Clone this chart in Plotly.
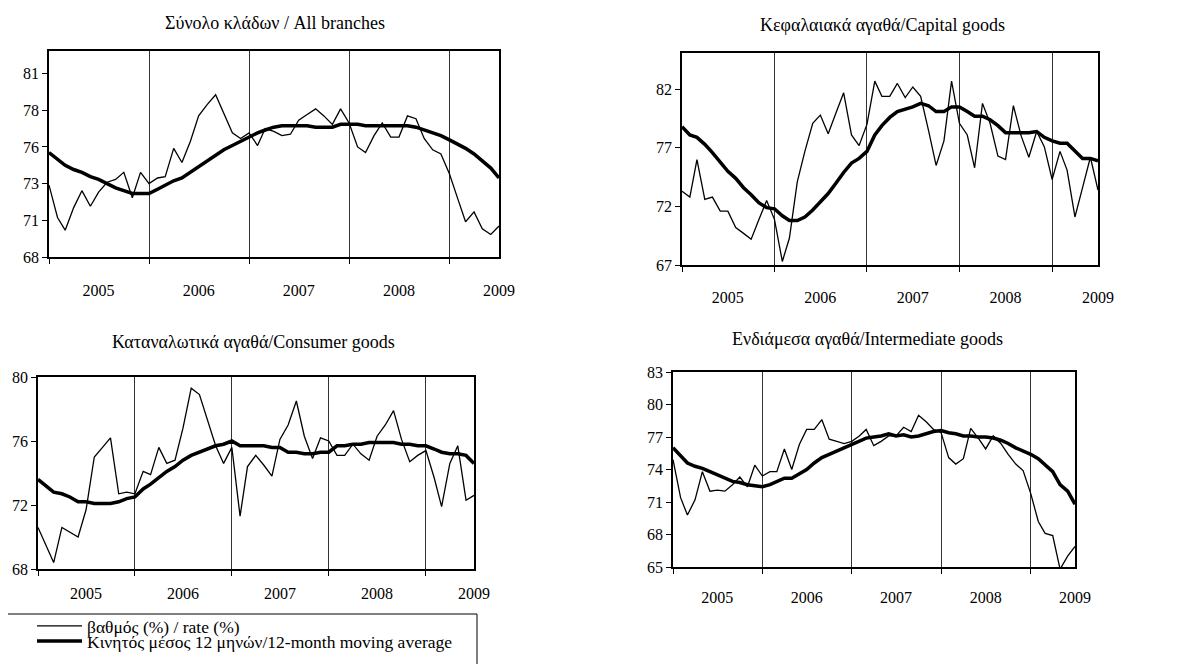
import pandas as pd
import plotly.graph_objects as go

W, H = 1187, 664
OX, OY = 8, 8  # page margin offset of the rendered figure

months = pd.date_range("2005-01-01", "2009-07-01", freq="MS")
year_labels = ["2005", "2006", "2007", "2008", "2009"]
year_label_pos = ["2005-07-01", "2006-07-01", "2007-07-01", "2008-07-01", "2009-07-01"]
year_bounds = ["2005-01-01", "2006-01-01", "2007-01-01", "2008-01-01", "2009-01-01"]

titles = ["Σύνολο κλάδων / All branches", "Κεφαλαιακά αγαθά/Capital goods",
          "Καταναλωτικά αγαθά/Consumer goods", "Ενδιάμεσα αγαθά/Intermediate goods"]
legend_names = ["βαθμός (%) / rate (%)", "Κινητός μέσος 12 μηνών/12-month moving average"]

# All branches
all_rate = [73.1, 70.8, 69.9, 71.5, 72.7, 71.6, 72.6, 73.3, 73.5, 74.0, 72.2, 74.0,
            73.2, 73.6, 73.7, 75.7, 74.7, 76.2, 78.0, 78.8, 79.5, 78.2, 76.8, 76.4,
            76.8, 75.9, 77.1, 76.9, 76.6, 76.7, 77.7, 78.1, 78.5, 78.0, 77.4, 78.5,
            77.5, 75.8, 75.4, 76.6, 77.5, 76.5, 76.5, 78.0, 77.8, 76.4, 75.6, 75.3,
            73.9, 72.1, 70.5, 71.2, 70.0, 69.6, 70.2]
all_ma = [75.4, 74.9, 74.5, 74.2, 74.0, 73.7, 73.5, 73.2, 72.9, 72.7, 72.5, 72.5,
          72.5, 72.8, 73.1, 73.4, 73.6, 74.0, 74.4, 74.8, 75.2, 75.6, 75.9, 76.2,
          76.5, 76.8, 77.0, 77.2, 77.3, 77.3, 77.3, 77.3, 77.2, 77.2, 77.2, 77.4,
          77.4, 77.4, 77.3, 77.3, 77.3, 77.3, 77.3, 77.3, 77.2, 77.0, 76.8, 76.6,
          76.3, 76.0, 75.7, 75.3, 74.8, 74.3, 73.6]
all_ticks = [68, 70.6, 73.2, 75.8, 78.4, 81]
all_ticktext = ["68", "71", "73", "76", "78", "81"]

# Capital goods
cap_rate = [73.3, 72.8, 76.0, 72.6, 72.8, 71.6, 71.6, 70.2, 69.7, 69.2, 70.9, 72.5,
            70.9, 67.3, 69.3, 74.1, 76.7, 79.1, 79.8, 78.2, 80.0, 81.7, 78.1, 77.2,
            79.0, 82.7, 81.4, 81.4, 82.5, 81.3, 82.2, 81.4, 78.5, 75.5, 77.6, 82.7,
            79.1, 78.1, 75.3, 80.8, 79.1, 76.3, 76.0, 80.6, 78.0, 76.2, 78.4, 77.1,
            74.3, 76.7, 75.1, 71.1, 73.6, 76.2, 73.4]
cap_ma = [78.8, 78.1, 77.9, 77.3, 76.6, 75.8, 75.0, 74.4, 73.6, 73.0, 72.3, 71.9,
          71.8, 71.2, 70.8, 70.8, 71.1, 71.7, 72.4, 73.1, 74.0, 74.9, 75.7, 76.1,
          76.7, 78.1, 78.9, 79.6, 80.1, 80.3, 80.5, 80.8, 80.6, 80.1, 80.1, 80.5,
          80.5, 80.1, 79.7, 79.7, 79.4, 78.9, 78.3, 78.3, 78.3, 78.3, 78.4, 77.9,
          77.6, 77.4, 77.4, 76.7, 76.1, 76.1, 75.9]
cap_ticks = [67, 72, 77, 82]
cap_ticktext = ["67", "72", "77", "82"]

# Consumer goods
con_rate = [70.6, 69.5, 68.4, 70.6, 70.3, 70.0, 71.7, 75.0, 75.6, 76.2, 72.7, 72.8,
            72.7, 74.1, 73.9, 75.6, 74.6, 74.8, 76.8, 79.3, 78.9, 77.3, 75.7, 74.6,
            75.6, 71.3, 74.4, 75.1, 74.5, 73.8, 76.1, 77.0, 78.5, 76.3, 74.9, 76.2,
            76.0, 75.1, 75.1, 75.8, 75.2, 74.8, 76.3, 77.0, 77.9, 76.1, 74.7, 75.1,
            75.4, 73.7, 71.9, 74.6, 75.7, 72.3, 72.6]
con_ma = [73.6, 73.2, 72.8, 72.7, 72.5, 72.2, 72.2, 72.1, 72.1, 72.1, 72.2, 72.4,
          72.5, 73.0, 73.3, 73.7, 74.1, 74.4, 74.8, 75.1, 75.3, 75.5, 75.7, 75.8,
          76.0, 75.7, 75.7, 75.7, 75.7, 75.6, 75.6, 75.3, 75.3, 75.2, 75.2, 75.3,
          75.3, 75.7, 75.7, 75.8, 75.8, 75.9, 75.9, 75.9, 75.9, 75.8, 75.8, 75.7,
          75.7, 75.5, 75.3, 75.2, 75.2, 75.1, 74.6]
con_ticks = [68, 72, 76, 80]
con_ticktext = ["68", "72", "76", "80"]

# Intermediate goods
int_rate = [74.9, 71.4, 69.8, 71.2, 73.8, 72.0, 72.1, 72.0, 72.6, 73.3, 72.4, 74.4,
            73.4, 73.8, 73.8, 75.9, 74.0, 76.3, 77.7, 77.7, 78.6, 76.8, 76.6, 76.4,
            76.6, 77.1, 77.7, 76.2, 76.6, 77.1, 77.1, 77.9, 77.5, 79.0, 78.4, 77.7,
            77.4, 75.1, 74.5, 75.0, 77.8, 76.9, 75.9, 77.1, 76.4, 75.4, 74.5, 73.9,
            71.8, 69.2, 68.1, 67.9, 64.8, 66.0, 66.9]
int_ma = [76.0, 75.3, 74.6, 74.3, 74.1, 73.8, 73.5, 73.2, 72.9, 72.8, 72.6, 72.5,
          72.4, 72.6, 72.9, 73.2, 73.2, 73.6, 74.0, 74.6, 75.1, 75.4, 75.7, 76.0,
          76.3, 76.6, 76.9, 77.0, 77.1, 77.3, 77.1, 77.2, 77.0, 77.1, 77.3, 77.5,
          77.6, 77.4, 77.3, 77.1, 77.1, 77.0, 77.0, 76.9, 76.7, 76.4, 76.0, 75.7,
          75.4, 75.0, 74.4, 73.8, 72.6, 72.0, 70.8]
int_ticks = [65, 68, 71, 74, 77, 80, 83]
int_ticktext = ["65", "68", "71", "74", "77", "80", "83"]

panels = [
    # rate, ma, ticks, ticktext, yrange, x px, y px, title pos px, label offset
    (all_rate, all_ma, all_ticks, all_ticktext, [68, 82.6], (49, 499), (51, 257), (275, 23), 18),
    (cap_rate, cap_ma, cap_ticks, cap_ticktext, [67, 85.1], (682, 1098), (53, 265), (882, 25), 17),
    (con_rate, con_ma, con_ticks, con_ticktext, [68, 80], (38, 474), (377, 569), (253, 342), 9),
    (int_rate, int_ma, int_ticks, int_ticktext, [65, 83], (673, 1075), (372, 567), (867, 339), 15),
]

FF = "Liberation Serif, Times New Roman, DejaVu Serif, serif"


def px(x):
    return (x - OX) / W


def py(y):
    return 1 - (y - OY) / H


fig = go.Figure()
annotations = []
for k, (rate, ma, ticks, ticktext, yr, xpx, ypx, tpos, lab_off) in enumerate(panels):
    sfx = "" if k == 0 else str(k + 1)
    fig.add_trace(go.Scatter(x=months, y=rate, mode="lines", name=legend_names[0],
                             line=dict(color="black", width=1.3), showlegend=(k == 0),
                             legend="legend", xaxis="x" + sfx, yaxis="y" + sfx))
    fig.add_trace(go.Scatter(x=months, y=ma, mode="lines", name=legend_names[1],
                             line=dict(color="black", width=3.5), showlegend=(k == 0),
                             legend="legend2", xaxis="x" + sfx, yaxis="y" + sfx))
    fig.layout["xaxis" + sfx] = dict(
        domain=[px(xpx[0]), px(xpx[1])], anchor="y" + sfx, automargin=False,
        range=["2005-01-01", "2009-07-01"], type="date",
        tickmode="array", tickvals=year_label_pos, ticktext=year_labels,
        ticks="outside", ticklen=lab_off, tickcolor="rgba(0,0,0,0)",
        showgrid=False, zeroline=False,
        showline=True, linecolor="black", linewidth=1.5, mirror=True,
        tickfont=dict(family=FF, size=16, color="black"),
        minor=dict(tickmode="array", tickvals=year_bounds, showgrid=True,
                   gridcolor="#333333", gridwidth=1, ticks="outside", ticklen=5,
                   tickcolor="black"),
    )
    fig.layout["yaxis" + sfx] = dict(
        domain=[py(ypx[1]), py(ypx[0])], anchor="x" + sfx, automargin=False,
        range=yr, tickmode="array", tickvals=ticks, ticktext=ticktext,
        ticks="outside", ticklen=5, tickcolor="black",
        showgrid=False, zeroline=False,
        showline=True, linecolor="black", linewidth=1.5, mirror=True,
        tickfont=dict(family=FF, size=16, color="black"),
    )
    annotations.append(dict(
        text=titles[k], x=px(tpos[0]), y=py(tpos[1]), xref="paper", yref="paper",
        xanchor="center", yanchor="middle", showarrow=False,
        font=dict(family=FF, size=18, color="black"),
    ))

leg_common = dict(xanchor="left", yanchor="middle", bgcolor="rgba(0,0,0,0)", borderwidth=0,
                  font=dict(family=FF, size=17.5, color="black"), itemwidth=45)

fig.update_layout(
    width=W, height=H,
    margin=dict(l=0, r=0, t=0, b=0, autoexpand=False),
    paper_bgcolor="white", plot_bgcolor="white",
    font=dict(family=FF, color="black"),
    annotations=annotations,
    showlegend=True,
    legend=dict(x=px(32), y=py(626), **leg_common),
    legend2=dict(x=px(32), y=py(641), **leg_common),
    shapes=[dict(type="rect", xref="paper", yref="paper",
                 x0=px(7), x1=px(477), y0=-0.02, y1=py(614),
                 line=dict(color="black", width=1))],
)

fig.write_html("out.html")
